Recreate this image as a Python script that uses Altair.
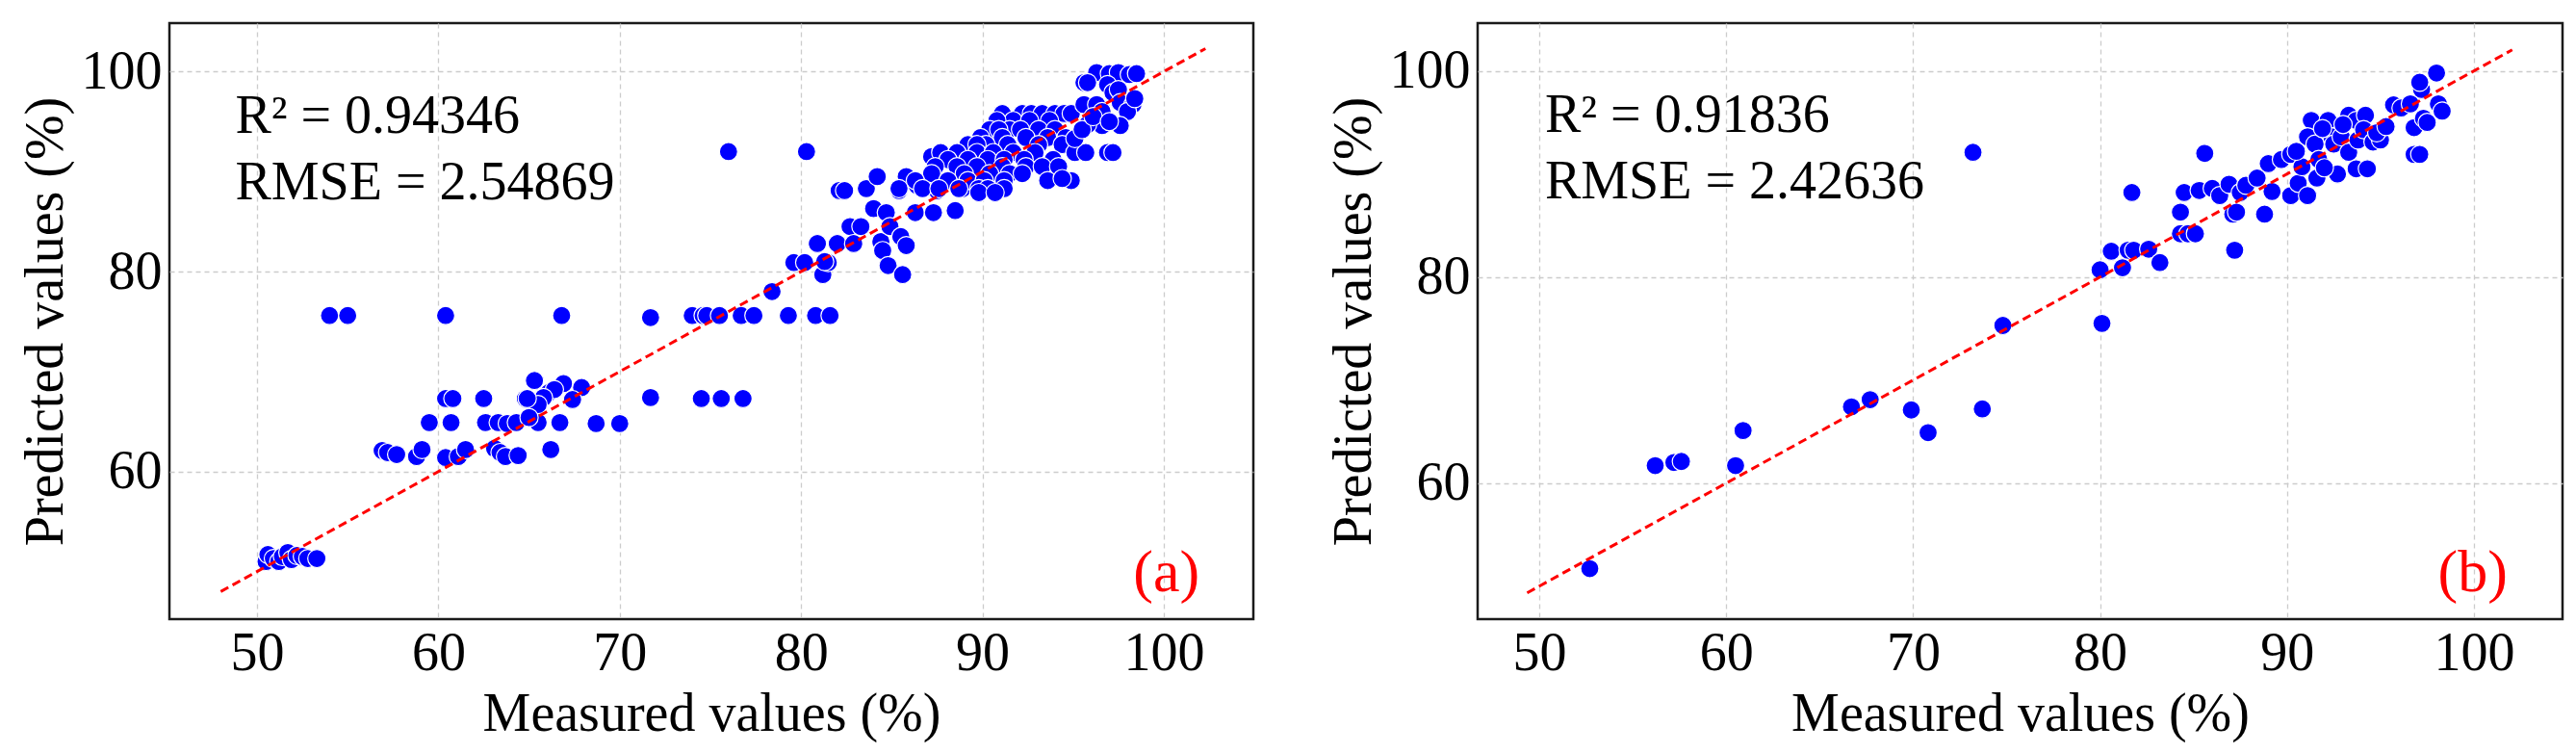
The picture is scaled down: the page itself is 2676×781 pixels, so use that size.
import altair as alt
import pandas as pd

FONT = "Liberation Serif"

# ---------------- Panel (a) data ----------------
a_measured = [
    50.5, 50.6, 50.9, 51.2, 51.4, 51.7, 51.9, 52.2, 52.5, 52.8, 53.3,
    54.0, 55.0, 60.4, 66.8, 71.7, 74.0, 74.6, 74.8, 75.5, 76.7, 77.4, 79.3, 80.8, 81.6,
    60.4, 60.8, 62.5, 64.8, 71.7, 74.5, 75.6, 76.8,
    59.5, 60.7, 62.6, 63.3, 63.8, 64.3, 65.5, 66.7, 68.7, 70.0,
    56.9, 57.2, 57.7, 58.8, 59.1, 60.4, 61.1, 61.5, 63.1, 63.4, 63.7, 64.4, 66.2,
    65.3, 66.9, 67.9, 66.1, 66.4, 65.8, 67.4, 65.5, 65.0, 64.9,
    76.0, 80.3,
    78.4, 79.6, 80.2, 80.9, 81.2, 81.5, 81.3, 82.0, 82.1, 82.4, 82.7, 82.9, 83.3, 83.6,
    84.0, 84.2, 84.4, 84.5, 84.7, 84.9, 84.8, 85.4, 85.5, 85.6, 85.8, 85.8, 86.3, 86.4,
    87.1, 87.3, 87.2, 87.5, 87.8, 88.4, 88.5, 88.7, 88.9, 89.2,
    91.1, 92.2, 92.7, 93.3, 94.0, 94.5, 94.9,
    91.7, 92.6, 93.7, 90.8,
    90.4, 91.5, 92.1, 93.1, 94.0, 90.9,
    89.9, 91.1, 92.4, 93.6, 94.6,
    89.2, 90.2, 91.4, 93.1, 94.4, 89.7,
    87.7, 88.6, 89.7, 90.6, 91.7, 92.9, 95.1,
    88.1, 89.2, 90.3, 91.2, 92.3, 93.9,
    87.4, 88.6, 89.7, 91.1, 92.4, 93.3, 94.2,
    87.2, 89.0, 90.4, 91.5, 92.2,
    86.3, 88.1, 89.2, 90.1, 91.2, 93.6, 94.9,
    85.4, 86.7, 87.6, 88.7, 89.8, 90.3, 91.2,
    89.8, 90.7,
    96.3, 97.0, 97.5, 98.1, 98.5, 95.6, 95.8, 96.9, 97.2, 97.5, 95.6, 96.3, 97.6, 98.3,
    96.6, 98.0, 96.6, 97.6, 95.8, 95.7, 96.9, 97.2, 94.4, 95.1, 95.5, 96.1, 97.0, 98.4,
]
a_predicted = [
    51.0, 51.7, 51.3, 51.0, 51.5, 51.9, 51.2, 51.6, 51.5, 51.3, 51.3,
    75.6, 75.6, 75.6, 75.6, 75.4, 75.6, 75.6, 75.6, 75.6, 75.6, 75.6, 75.6, 75.6, 75.6,
    67.3, 67.3, 67.3, 67.3, 67.4, 67.3, 67.3, 67.3,
    64.9, 64.9, 64.9, 64.9, 64.8, 64.9, 64.9, 64.9, 64.8, 64.8,
    62.1, 61.9, 61.7, 61.5, 62.2, 61.4, 61.5, 62.2, 62.3, 61.9, 61.5, 61.6, 62.2,
    69.1, 68.8, 68.4, 67.9, 68.2, 67.4, 67.2, 66.7, 65.4, 67.3,
    92.0, 92.0,
    78.0, 80.9, 80.9, 82.8, 79.7, 80.9, 81.0, 82.8, 88.1, 88.1, 84.5, 82.8, 84.5, 88.3,
    86.3, 89.5, 83.0, 82.1, 85.9, 84.5, 80.6, 88.1, 83.5, 79.7, 89.5, 82.6, 85.9, 88.6,
    89.3, 85.9, 91.5, 88.1, 88.8, 91.7, 86.1, 90.0, 88.3, 92.7,
    95.8, 95.8, 95.8, 95.8, 95.8, 95.8, 95.8,
    95.1, 95.1, 95.1, 95.1,
    94.2, 94.2, 94.2, 94.2, 94.2, 94.2,
    93.4, 93.4, 93.4, 93.4, 93.4,
    92.7, 92.7, 92.7, 92.7, 92.7, 92.7,
    91.9, 91.9, 91.9, 91.9, 91.9, 91.9, 91.9,
    91.2, 91.2, 91.2, 91.2, 91.2, 91.2,
    90.5, 90.5, 90.5, 90.5, 90.5, 90.5, 90.5,
    89.8, 89.8, 89.8, 89.8, 89.8,
    89.1, 89.1, 89.1, 89.1, 89.1, 89.1, 89.1,
    88.3, 88.3, 88.3, 88.3, 88.3, 88.3, 88.3,
    87.9, 87.9,
    99.9, 99.8, 99.9, 99.7, 99.8, 98.9, 98.9, 98.7, 97.9, 98.2, 96.7, 96.7, 96.9, 96.7,
    96.0, 96.0, 94.6, 94.6, 94.7, 91.9, 91.9, 91.9, 89.3, 93.3, 94.2, 95.5, 95.0, 97.3,
]

# ---------------- Panel (b) data ----------------
b_measured = [
    52.7, 56.2, 57.2, 57.6, 60.5, 60.9, 66.7, 67.7, 69.9, 70.8, 73.7, 73.2, 74.8,
    80.1, 80.0, 81.2, 80.6, 81.5, 81.8, 82.6, 83.2, 81.7, 84.3, 84.7, 85.1, 84.3,
    84.5, 85.3, 85.6, 86.0, 86.4, 86.9, 87.1, 87.3, 87.2, 87.5, 87.8, 88.4, 88.8,
    89.0, 89.2, 89.7, 90.2, 90.2, 90.6, 90.8, 91.1, 91.3, 91.1, 91.5, 91.7, 91.6,
    92.2, 92.4, 92.5, 92.7, 92.9, 93.3, 93.3, 93.7, 93.8, 93.7, 94.2, 94.1, 94.3,
    94.6, 95.0, 95.7, 96.1, 96.6, 96.8, 96.8, 97.1, 97.2, 97.3, 97.1, 97.5, 98.0,
    98.1, 98.3, 90.5, 91.9, 92.0, 93.0, 94.8, 95.3,
]
b_predicted = [
    51.7, 61.7, 62.0, 62.1, 61.7, 65.1, 67.4, 68.1, 67.1, 64.9, 67.2, 92.1, 75.3,
    75.5, 80.7, 80.9, 82.5, 82.6, 82.6, 82.7, 81.4, 88.2, 84.2, 84.2, 84.2, 86.3,
    88.2, 88.4, 92.0, 88.6, 87.9, 89.0, 86.1, 86.3, 82.6, 88.2, 88.9, 89.6, 86.1,
    91.0, 88.3, 91.4, 91.9, 87.9, 89.1, 90.7, 87.9, 95.2, 93.6, 92.9, 91.4, 89.6,
    95.2, 93.6, 92.9, 90.0, 93.6, 95.7, 92.1, 95.2, 93.3, 90.5, 95.7, 94.3, 90.5,
    93.1, 93.3, 96.7, 96.4, 96.8, 91.9, 94.5, 91.9, 98.2, 95.4, 98.9, 95.0, 99.8,
    96.8, 96.1, 92.2, 94.4, 90.6, 94.8, 94.0, 94.6,
]

# 1:1 reference lines (start / end of the dashed red line)
a_line = [48.0, 102.3]
b_line = [49.35, 102.05]

# annotation texts
a_texts = ["R² = 0.94346", "RMSE = 2.54869"]
b_texts = ["R² = 0.91836", "RMSE = 2.42636"]
a_text_x = [48.8, 48.8]
a_text_y = [93.9, 87.2]
b_text_x = [50.3, 50.3]
b_text_y = [94.1, 87.6]

a_domain = [45.17, 104.94]
a_ydomain = [45.24, 104.85]
b_domain = [46.7, 104.74]
b_ydomain = [46.8, 104.64]

x_ticks = [50, 60, 70, 80, 90, 100]
y_ticks = [60, 80, 100]


def panel(meas, pred, line, texts, tx, ty, tag, tagx, tagy, xdom, ydom, width):
    pts = pd.DataFrame({"Measured": meas, "Predicted": pred})
    ln = pd.DataFrame({"Measured": line, "Predicted": line})
    ann = pd.DataFrame({"label": texts, "Measured": tx, "Predicted": ty})
    tagdf = pd.DataFrame({"label": [tag], "Measured": [tagx], "Predicted": [tagy]})

    xs = alt.Scale(domain=xdom, nice=False, zero=False)
    ys = alt.Scale(domain=ydom, nice=False, zero=False)
    xax = alt.Axis(values=x_ticks, title="Measured values (%)", format="d")
    yax = alt.Axis(values=y_ticks, title="Predicted values (%)", format="d")

    scatter = alt.Chart(pts).mark_point(
        shape="circle", filled=True, fill="#0000ff", stroke="white",
        strokeWidth=1.2, size=360, opacity=1
    ).encode(
        x=alt.X("Measured:Q", scale=xs, axis=xax),
        y=alt.Y("Predicted:Q", scale=ys, axis=yax),
    )
    line_l = alt.Chart(ln).mark_line(
        color="#ff0000", strokeWidth=3, strokeDash=[9, 5]
    ).encode(x=alt.X("Measured:Q", scale=xs), y=alt.Y("Predicted:Q", scale=ys))
    txt = alt.Chart(ann).mark_text(
        font=FONT, fontSize=56, align="left", baseline="alphabetic", color="black"
    ).encode(x=alt.X("Measured:Q", scale=xs), y=alt.Y("Predicted:Q", scale=ys),
             text="label:N")
    tg = alt.Chart(tagdf).mark_text(
        font=FONT, fontSize=62, align="right", baseline="alphabetic", color="#ff0000"
    ).encode(x=alt.X("Measured:Q", scale=xs), y=alt.Y("Predicted:Q", scale=ys),
             text="label:N")
    return alt.layer(scatter, line_l, txt, tg).properties(width=width, height=619)


left = panel(a_measured, a_predicted, a_line, a_texts, a_text_x, a_text_y,
             "(a)", 101.97, 48.04, a_domain, a_ydomain, 1126)
right = panel(b_measured, b_predicted, b_line, b_texts, b_text_x, b_text_y,
              "(b)", 101.8, 49.5, b_domain, b_ydomain, 1127)

chart = alt.hconcat(left, right, spacing=72).properties(
    padding={"left": 17, "top": 22, "right": 5, "bottom": 5}
).configure_view(
    stroke="#1a1a1a", strokeWidth=2.5
).configure_axis(
    labelFont=FONT, titleFont=FONT, labelFontSize=56, titleFontSize=56,
    titleFontWeight="normal", labelColor="black", titleColor="black",
    ticks=False, domain=False, grid=True, gridColor="#cccccc",
    gridDash=[5, 4], gridWidth=1.3, labelPadding=8, titlePadding=8,
)

chart.save("out.html", embed_options={"renderer": "svg", "actions": False})
